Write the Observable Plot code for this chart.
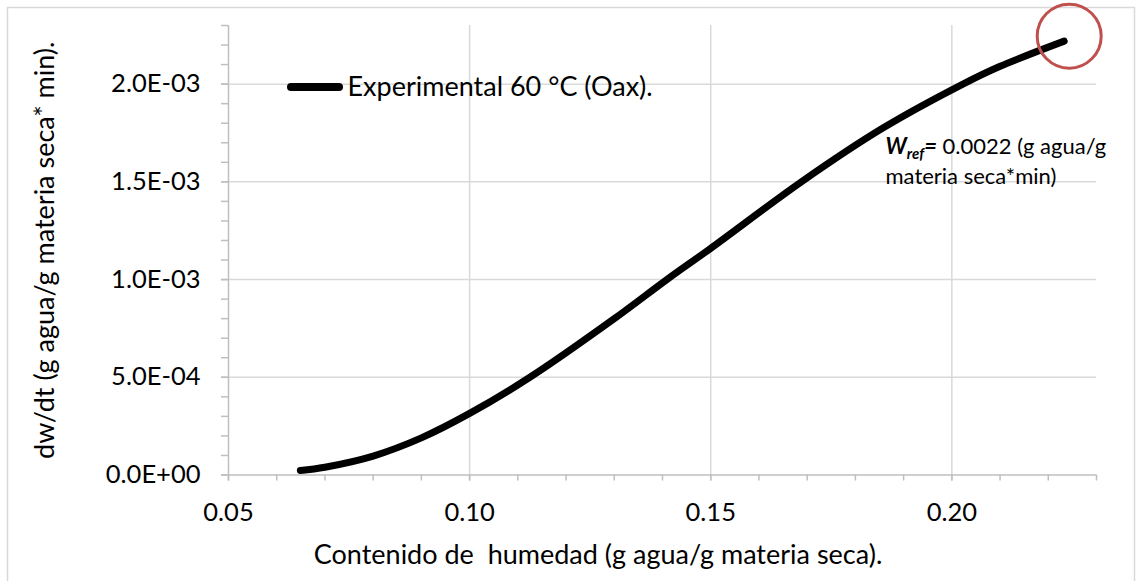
<!DOCTYPE html>
<html>
<head>
<meta charset="utf-8">
<script src="https://cdn.jsdelivr.net/npm/d3@7"></script>
<script src="https://cdn.jsdelivr.net/npm/@observablehq/plot@0.6"></script>
<style>
  html, body { margin: 0; padding: 0; background: #fff; }
  #chart { position: relative; width: 1141px; height: 581px; overflow: hidden; }
</style>
</head>
<body>
<div id="chart"></div>
<script>
// Drying rate curve: moisture content (g water / g dry matter) vs dw/dt
const moisture = [0.0649, 0.0700, 0.0800, 0.0900, 0.1000, 0.1125, 0.1300, 0.1409, 0.1500, 0.1688, 0.1857, 0.2023, 0.2099, 0.2233];
const dwdt     = [0.000023, 0.000040, 0.000097, 0.000190, 0.000315, 0.000500, 0.000800, 0.001000, 0.001160, 0.001500, 0.001775, 0.002000, 0.002090, 0.002220];

const seriesName = "Experimental 60 °C (Oax).";
const wRefValue = "0.0022";

const xTicks = [0.05, 0.10, 0.15, 0.20];
const xTickLabels = ["0.05", "0.10", "0.15", "0.20"];
const yTicks = [0, 0.0005, 0.001, 0.0015, 0.002];
const yTickLabels = ["0.0E+00", "5.0E-04", "1.0E-03", "1.5E-03", "2.0E-03"];

const xTitle = "Contenido de  humedad (g agua/g materia seca).";
const yTitle = "dw/dt (g agua/g materia seca* min).";
const noteLine1 = "Wref= " + wRefValue + " (g agua/g";
const noteLine2 = "materia seca*min)";

const points = moisture.map((m, i) => ({m, r: dwdt[i]}));
const last = points[points.length - 1];

const xMinor = d3.range(5, 24).map(k => k / 100);
const yMinor = d3.range(0, 24).map(k => k / 10000);

const xFmt = new Map(xTicks.map((t, i) => [t, xTickLabels[i]]));
const yFmt = new Map(yTicks.map((t, i) => [t, yTickLabels[i]]));

const axisGray = "#bfbfbf";
const gridGray = "#d9d9d9";
const font = "Lato, 'Open Sans', sans-serif";

const chart = Plot.plot({
  width: 1141,
  height: 581,
  marginLeft: 228,
  marginRight: 45,
  marginTop: 25,
  marginBottom: 106.5,
  style: {fontFamily: font, color: "#000", background: "transparent", overflow: "visible"},
  x: {domain: [0.05, 0.23]},
  y: {domain: [0, 0.0023]},
  marks: [
    Plot.gridX(xTicks.slice(1), {stroke: gridGray, strokeOpacity: 1, strokeWidth: 1.5}),
    Plot.gridY(yTicks.slice(1), {stroke: gridGray, strokeOpacity: 1, strokeWidth: 1.5}),
    Plot.ruleX([0.05], {stroke: axisGray, strokeWidth: 1.5}),
    Plot.ruleY([0], {stroke: axisGray, strokeWidth: 1.5}),
    Plot.axisY(yMinor, {tickSize: 7, tickFormat: () => "", label: null, stroke: axisGray, strokeWidth: 1.5}),
    Plot.axisY(yTicks, {tickSize: 7, tickPadding: 21, tickFormat: d => yFmt.get(d), label: null, stroke: axisGray, strokeWidth: 1.5, fontSize: 25.5}),
    Plot.axisX(xMinor, {tickSize: 6, tickFormat: () => "", label: null, stroke: axisGray, strokeWidth: 1.5}),
    Plot.axisX(xTicks, {tickSize: 6, tickPadding: 22, tickFormat: d => xFmt.get(d), label: null, stroke: axisGray, strokeWidth: 1.5, fontSize: 25.5}),
    Plot.line(points, {x: "m", y: "r", stroke: "#000", strokeWidth: 7, curve: "catmull-rom", strokeLinecap: "round"}),
    Plot.dot([last], {x: "m", y: "r", r: 32, fill: "none", stroke: "#c0504d", strokeWidth: 3, dx: 5, dy: -5}),
    Plot.text([seriesName], {frameAnchor: "top-left", dx: 119, dy: 70, lineAnchor: "bottom", textAnchor: "start", fontSize: 27}),
    Plot.text([noteLine1], {frameAnchor: "top-left", dx: 657, dy: 128.3, lineAnchor: "bottom", textAnchor: "start", fontSize: 22}),
    Plot.text([noteLine2], {frameAnchor: "top-left", dx: 657, dy: 158.3, lineAnchor: "bottom", textAnchor: "start", fontSize: 22}),
    Plot.text([xTitle], {frameAnchor: "bottom", textAnchor: "middle", dx: -64.5, dy: 89, lineAnchor: "bottom", fontSize: 27}),
    Plot.text([yTitle], {frameAnchor: "left", textAnchor: "middle", rotate: -90, dx: -175, lineAnchor: "bottom", fontSize: 27})
  ]
});

const svg = d3.select(chart);

// Outer chart border
svg.insert("rect", ":first-child")
  .attr("x", 7.5).attr("y", 7.5)
  .attr("width", 1127).attr("height", 620)
  .attr("fill", "none").attr("stroke", gridGray).attr("stroke-width", 1.5);

// Legend swatch next to the series label
svg.append("line")
  .attr("x1", 291).attr("x2", 339)
  .attr("y1", 87).attr("y2", 87)
  .attr("stroke", "#000").attr("stroke-width", 8).attr("stroke-linecap", "round");

// W_ref note: bold italic symbol with subscript
svg.selectAll("text").filter(function() { return this.textContent === noteLine1; })
  .each(function() {
    const t = d3.select(this);
    t.text(null);
    t.append("tspan").attr("font-weight", "bold").attr("font-style", "italic").text("W");
    t.append("tspan").attr("font-weight", "bold").attr("font-style", "italic").attr("font-size", 15).attr("dy", 5).text("ref");
    t.append("tspan").attr("font-weight", "bold").attr("font-style", "italic").attr("dy", -5).text("=");
    t.append("tspan").text(" " + wRefValue + " (g agua/g");
  });

document.getElementById("chart").appendChild(chart);
</script>
</body>
</html>
